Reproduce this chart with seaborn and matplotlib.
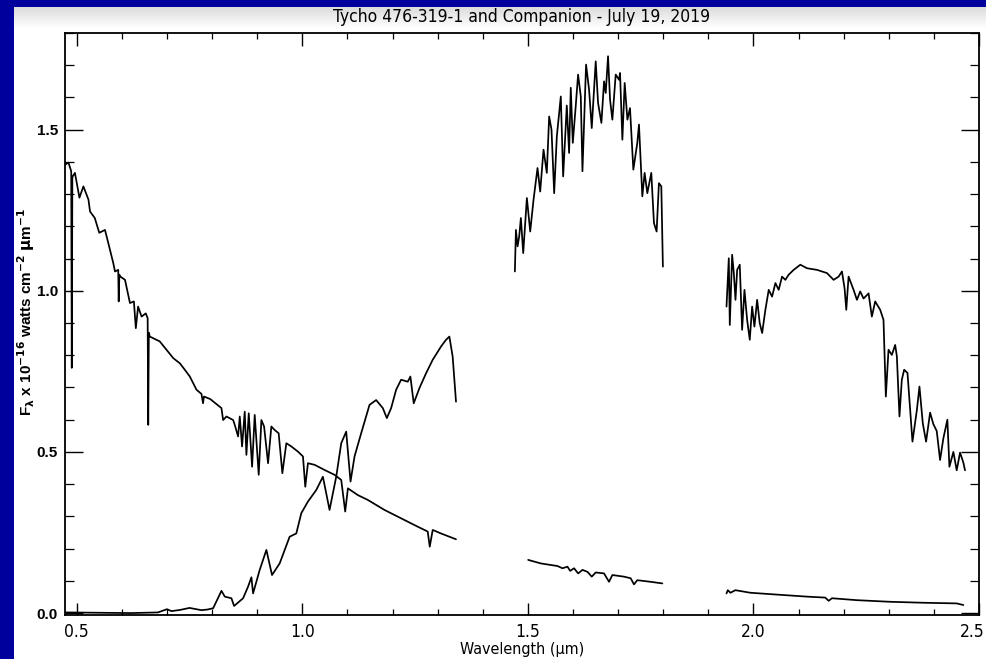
import numpy as np
import pandas as pd
import matplotlib
matplotlib.use("Agg")
import matplotlib.pyplot as plt
from matplotlib.ticker import MultipleLocator
from matplotlib.transforms import ScaledTranslation
from matplotlib import font_manager as fm
import seaborn as sns

# ---- spectra: wavelength (micron) and flux, one pair of lists per band segment ----
star_opt_wave = [0.474, 0.4816, 0.4867, 0.4878, 0.489, 0.4903, 0.491, 0.496, 0.506, 0.5148,
                 0.526, 0.5295, 0.540, 0.550, 0.5626, 0.570, 0.581, 0.5848, 0.592, 0.593,
                 0.5945, 0.5959, 0.607, 0.618, 0.6267, 0.631, 0.636, 0.6438, 0.653, 0.6572,
                 0.6585, 0.6598, 0.662, 0.684, 0.699, 0.714, 0.7286, 0.7396, 0.7507, 0.7655,
                 0.7765, 0.780, 0.782, 0.796, 0.8208, 0.8245, 0.8319, 0.8467, 0.8503, 0.8577,
                 0.8614, 0.8665, 0.8724, 0.8761, 0.8813, 0.8887, 0.8945, 0.9034, 0.9093, 0.9153,
                 0.9241, 0.9314, 0.9388, 0.9476, 0.9558, 0.9646, 0.9757, 0.9904, 1.0015, 1.0066,
                 1.0125, 1.0273, 1.0494, 1.0715, 1.0863, 1.0951, 1.1011, 1.1232, 1.1453, 1.1822,
                 1.2190, 1.2559, 1.2780, 1.2825, 1.2891, 1.3075, 1.3407]
star_opt_flux = [1.391, 1.398, 1.376, 1.370, 0.761, 1.350, 1.355, 1.366, 1.289, 1.324,
                 1.283, 1.246, 1.226, 1.180, 1.189, 1.148, 1.086, 1.060, 1.065, 0.967,
                 1.050, 1.045, 1.034, 0.962, 0.967, 0.884, 0.951, 0.920, 0.930, 0.915,
                 0.584, 0.870, 0.858, 0.843, 0.817, 0.791, 0.775, 0.755, 0.734, 0.693,
                 0.680, 0.651, 0.672, 0.664, 0.636, 0.599, 0.610, 0.599, 0.584, 0.548,
                 0.610, 0.517, 0.625, 0.491, 0.620, 0.454, 0.615, 0.429, 0.599, 0.579,
                 0.465, 0.579, 0.568, 0.558, 0.434, 0.527, 0.517, 0.501, 0.486, 0.392,
                 0.465, 0.460, 0.444, 0.429, 0.413, 0.315, 0.387, 0.366, 0.351, 0.320,
                 0.294, 0.268, 0.253, 0.206, 0.258, 0.247, 0.229]

star_h_wave = [1.5007, 1.5288, 1.5657, 1.5767, 1.5878, 1.5937, 1.6025, 1.6114, 1.6210, 1.6320,
               1.6416, 1.6504, 1.6689, 1.6799, 1.6873, 1.7131, 1.7279, 1.7352, 1.7426, 1.7721,
               1.7980]
star_h_flux = [0.165, 0.154, 0.146, 0.139, 0.144, 0.131, 0.139, 0.123, 0.134, 0.128,
               0.113, 0.126, 0.123, 0.097, 0.118, 0.113, 0.108, 0.089, 0.102, 0.097,
               0.092]

star_k_wave = [1.9403, 1.9432, 1.949, 1.960, 1.9934, 2.0449, 2.1187, 2.1593, 2.1667, 2.1741,
               2.2294, 2.3031, 2.3768, 2.4506, 2.4653]
star_k_flux = [0.061, 0.071, 0.063, 0.071, 0.063, 0.058, 0.051, 0.048, 0.038, 0.046,
               0.040, 0.035, 0.032, 0.030, 0.025]

comp_opt_wave = [0.475, 0.55, 0.62, 0.68, 0.700, 0.710, 0.730, 0.750, 0.765, 0.7765,
                 0.790, 0.8024, 0.8208, 0.8282, 0.8429, 0.8488, 0.8688, 0.8798, 0.8872, 0.8909,
                 0.9056, 0.9204, 0.9329, 0.9498, 0.9720, 0.9867, 0.9978, 1.0125, 1.0310, 1.0457,
                 1.0604, 1.0752, 1.0863, 1.0973, 1.1069, 1.1158, 1.1305, 1.1490, 1.1637, 1.1785,
                 1.1874, 1.1969, 1.2080, 1.2190, 1.2338, 1.2396, 1.2470, 1.2596, 1.2743, 1.2891,
                 1.3075, 1.3186, 1.3260, 1.3333, 1.3407]
comp_opt_flux = [0.002, 0.001, 0.000, 0.002, 0.012, 0.006, 0.010, 0.016, 0.012, 0.009,
                 0.011, 0.015, 0.069, 0.051, 0.046, 0.022, 0.046, 0.082, 0.111, 0.061,
                 0.134, 0.196, 0.118, 0.154, 0.237, 0.247, 0.310, 0.346, 0.382, 0.423,
                 0.320, 0.423, 0.527, 0.563, 0.408, 0.486, 0.558, 0.646, 0.661, 0.636,
                 0.605, 0.636, 0.693, 0.724, 0.718, 0.734, 0.651, 0.698, 0.744, 0.786,
                 0.827, 0.848, 0.858, 0.796, 0.656]

comp_h_wave = [1.4712, 1.4735, 1.4772, 1.4808, 1.4845, 1.4897, 1.4978, 1.5052, 1.5126, 1.5214,
               1.5273, 1.5347, 1.5420, 1.5472, 1.5524, 1.5583, 1.5642, 1.5730, 1.5782, 1.5863,
               1.5914, 1.5951, 1.5996, 1.6062, 1.6113, 1.6173, 1.6210, 1.6290, 1.6357, 1.6416,
               1.6504, 1.6556, 1.6630, 1.6689, 1.6726, 1.6777, 1.6822, 1.6873, 1.6947, 1.7021,
               1.7043, 1.7095, 1.7146, 1.7206, 1.7264, 1.7338, 1.7426, 1.7463, 1.7537, 1.7588,
               1.7648, 1.7736, 1.7795, 1.7854, 1.7905, 1.7958, 1.7993]
comp_h_flux = [1.060, 1.189, 1.138, 1.169, 1.226, 1.117, 1.288, 1.184, 1.283, 1.381,
               1.308, 1.438, 1.366, 1.541, 1.500, 1.303, 1.479, 1.603, 1.355, 1.575,
               1.428, 1.630, 1.459, 1.575, 1.671, 1.603, 1.371, 1.702, 1.624, 1.505,
               1.712, 1.583, 1.521, 1.650, 1.614, 1.728, 1.593, 1.531, 1.671, 1.655,
               1.676, 1.469, 1.645, 1.531, 1.567, 1.376, 1.459, 1.516, 1.293, 1.366,
               1.303, 1.366, 1.210, 1.184, 1.334, 1.324, 1.075]

comp_k_wave = [1.9403, 1.9454, 1.9476, 1.9528, 1.9565, 1.9602, 1.9639, 1.9697, 1.9749, 1.9801,
               1.9860, 1.9919, 1.9971, 2.0022, 2.0082, 2.0139, 2.0193, 2.0265, 2.0339, 2.0413,
               2.0487, 2.0560, 2.0634, 2.0708, 2.0781, 2.0892, 2.1040, 2.1187, 2.1409, 2.1630,
               2.1777, 2.1888, 2.1962, 2.2020, 2.2058, 2.2109, 2.2220, 2.2294, 2.2367, 2.2441,
               2.2552, 2.2625, 2.2699, 2.2810, 2.2883, 2.2935, 2.2994, 2.3068, 2.3142, 2.3179,
               2.3237, 2.3289, 2.3341, 2.3415, 2.3525, 2.3623, 2.3680, 2.3754, 2.3827, 2.3916,
               2.3989, 2.4063, 2.4137, 2.4211, 2.4299, 2.4344, 2.4432, 2.4506, 2.4580, 2.4653,
               2.4690]
comp_k_flux = [0.951, 1.101, 0.894, 1.112, 1.055, 0.972, 1.065, 1.081, 0.879, 1.003,
               0.910, 0.848, 0.951, 0.889, 0.972, 0.900, 0.869, 0.941, 1.003, 0.982,
               1.024, 1.003, 1.044, 1.034, 1.050, 1.065, 1.081, 1.070, 1.065, 1.055,
               1.034, 1.044, 1.060, 1.008, 0.941, 1.044, 1.003, 0.972, 0.998, 0.976,
               0.992, 0.920, 0.967, 0.941, 0.910, 0.672, 0.817, 0.801, 0.832, 0.797,
               0.610, 0.724, 0.755, 0.745, 0.532, 0.630, 0.703, 0.589, 0.532, 0.622,
               0.586, 0.565, 0.475, 0.543, 0.600, 0.454, 0.500, 0.443, 0.498, 0.467,
               0.443]

x_ticks = [0.5, 1.0, 1.5, 2.0, 2.5]
x_tick_labels = ["0.5", "1.0", "1.5", "2.0", "2.5"]
y_ticks = [0.0, 0.5, 1.0, 1.5]
y_tick_labels = ["0.0", "0.5", "1.0", "1.5"]

title_text = "Tycho 476-319-1 and Companion - July 19, 2019"
x_label = "Wavelength (\u03bcm)"
y_label = r"F$_\lambda$ x 10$^{-16}$ watts cm$^{-2}$ $\mu$m$^{-1}$"

segments = [
    ("star_opt", star_opt_wave, star_opt_flux),
    ("star_h", star_h_wave, star_h_flux),
    ("star_k", star_k_wave, star_k_flux),
    ("comp_opt", comp_opt_wave, comp_opt_flux),
    ("comp_h", comp_h_wave, comp_h_flux),
    ("comp_k", comp_k_wave, comp_k_flux),
]
frames = []
for name, w, f in segments:
    frames.append(pd.DataFrame({"wave": w, "flux": f, "segment": name}))
spec = pd.concat(frames, ignore_index=True)

sns.set_theme(style="white")
plt.rcParams["font.family"] = ["Liberation Sans", "DejaVu Sans"]
plt.rcParams["mathtext.default"] = "bf"
plt.rcParams["text.color"] = "black"
plt.rcParams["axes.labelcolor"] = "black"
plt.rcParams["xtick.color"] = "black"
plt.rcParams["ytick.color"] = "black"

# a narrow face for the title and the wavelength axis, when one is installed
narrow_family, narrow_stretch = None, "normal"
for entry in fm.fontManager.ttflist:
    st = str(entry.stretch)
    if "Narrow" in entry.name or st in ("condensed", "semi-condensed", "extra-condensed"):
        narrow_family = entry.name
        narrow_stretch = st if st != "normal" else "condensed"
        break
if narrow_family is not None:
    narrow_kw = dict(family=[narrow_family, "DejaVu Sans"], stretch=narrow_stretch)
    title_size, xtick_size, xlab_size = 12.5, 12.5, 11.5
else:
    narrow_kw = dict(family=["Liberation Sans", "DejaVu Sans"])
    title_size, xtick_size, xlab_size = 11.5, 11, 10.5

W, H = 987, 659
fig = plt.figure(figsize=(W / 100, H / 100), dpi=100, facecolor="#00009c")

# white panel with a soft grey band along its top edge
bg = fig.add_axes([14 / W, 0, 1 - 14 / W, (H - 7) / H], zorder=-10)
grad = np.ones((652, 10))
n = 22
grad[:n, :] = np.linspace(0.86, 1.0, n)[:, None]
bg.imshow(grad, cmap="gray", vmin=0, vmax=1, aspect="auto", interpolation="bilinear")
bg.set_axis_off()

ax = fig.add_axes([65 / W, 1 - 615 / H, (979 - 65) / W, (615 - 33) / H])
ax.set_facecolor("white")

sns.lineplot(data=spec, x="wave", y="flux", units="segment", estimator=None,
             sort=False, color="black", linewidth=1.25, ax=ax, legend=False)

ax.set_xlim(0.474, 2.5)
ax.set_ylim(-0.006, 1.80)

ax.set_xticks(x_ticks)
ax.set_xticklabels(x_tick_labels, fontsize=xtick_size, color="black", **narrow_kw)
ax.set_yticks(y_ticks)
ax.set_yticklabels(y_tick_labels, fontsize=11, fontweight="bold", color="black")
ax.xaxis.set_minor_locator(MultipleLocator(0.1))
ax.yaxis.set_minor_locator(MultipleLocator(0.1))

ax.tick_params(axis="x", which="major", direction="in", length=9, width=1.0,
               top=True, bottom=True, pad=6, colors="black")
ax.tick_params(axis="x", which="minor", direction="in", length=4.5, width=0.9,
               top=True, bottom=True)
ax.tick_params(axis="y", which="major", direction="in", length=13, width=1.0,
               left=True, right=True, pad=5, colors="black")
ax.tick_params(axis="y", which="minor", direction="in", length=6.5, width=0.9,
               left=True, right=True)

# keep the last wavelength label inside the panel
last = ax.get_xticklabels()[-1]
last.set_transform(last.get_transform() + ScaledTranslation(-5 / 72, 0, fig.dpi_scale_trans))

for s in ax.spines.values():
    s.set_visible(True)
    s.set_color("black")
    s.set_linewidth(1.3)

ax.set_xlabel(x_label, fontsize=xlab_size, labelpad=0, color="black", **narrow_kw)
ax.xaxis.set_label_coords(0.5, -0.046)
ax.set_ylabel(y_label, fontsize=11, fontweight="bold", color="black")
ax.yaxis.set_label_coords(-0.031, 0.52)

fig.text(522 / W, 1 - 17 / H, title_text, ha="center", va="center",
         fontsize=title_size, color="black", **narrow_kw)

fig.savefig("out.png", dpi=100, facecolor=fig.get_facecolor())
